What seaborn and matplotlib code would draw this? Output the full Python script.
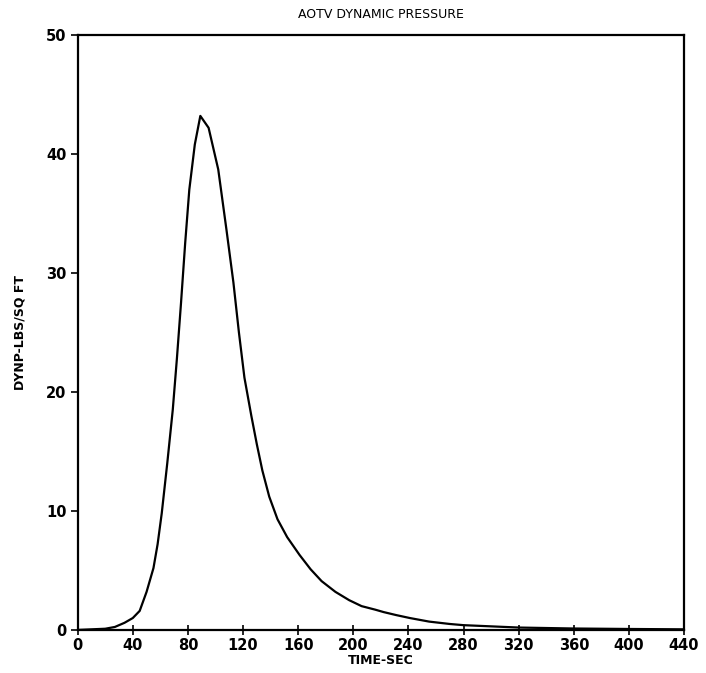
import matplotlib
matplotlib.use("Agg")
import matplotlib.pyplot as plt
import seaborn as sns
import pandas as pd

time_sec = [0, 10, 20, 27, 34, 40, 45, 50, 55, 58, 61, 65, 69, 72, 75, 78, 81, 85, 89,
            95, 102, 108, 113, 117, 121, 126, 130, 134, 139, 145, 152, 161, 169, 177,
            187, 197, 206, 216, 222, 231, 241, 255, 270, 280, 300, 320, 360, 400, 440]
dyn_pressure = [0, 0.05, 0.1, 0.25, 0.6, 1.0, 1.6, 3.2, 5.2, 7.2, 9.8, 14.0, 18.5, 22.8,
                27.5, 32.5, 37.0, 40.8, 43.2, 42.2, 38.7, 33.6, 29.2, 25.0, 21.2, 18.0,
                15.6, 13.4, 11.2, 9.3, 7.8, 6.3, 5.1, 4.1, 3.2, 2.5, 2.0, 1.7, 1.5, 1.25,
                1.0, 0.7, 0.5, 0.4, 0.3, 0.2, 0.12, 0.08, 0.05]
x_ticks = [0, 40, 80, 120, 160, 200, 240, 280, 320, 360, 400, 440]
y_ticks = [0, 10, 20, 30, 40, 50]

df = pd.DataFrame({"TIME-SEC": time_sec, "Q": dyn_pressure})

sns.set_style("white")
plt.rcParams['font.family'] = ['DejaVu Sans']

fig = plt.figure(figsize=(7.06, 6.73), dpi=100)
ax = fig.add_axes([0.110, 0.064, 0.859, 0.884])

sns.lineplot(data=df, x="TIME-SEC", y="Q", ax=ax, color="black", linewidth=1.6)

ax.set_xlim(0, 440)
ax.set_ylim(0, 50)
ax.set_xticks(x_ticks)
ax.set_yticks(y_ticks)
ax.set_xticklabels([str(t) for t in x_ticks], fontsize=10.5, fontweight="bold")
ax.set_yticklabels([str(t) for t in y_ticks], fontsize=10.5, fontweight="bold")
ax.tick_params(axis="x", direction="inout", length=7, width=1.2, pad=2, colors="black")
ax.tick_params(axis="y", direction="out", length=5, width=1.2, pad=3, colors="black")
ax.tick_params(bottom=True, left=True)

for s in ax.spines.values():
    s.set_visible(True)
    s.set_color("black")
    s.set_linewidth(1.6)

ax.set_xlabel("TIME-SEC", fontsize=9, fontweight="bold", labelpad=1, color="black")
ax.set_ylabel("DYNP-LBS/SQ FT", fontsize=9, fontweight="bold", labelpad=14, color="black")
ax.set_title("AOTV DYNAMIC PRESSURE", fontsize=9, pad=12, color="black")

fig.savefig("out.png", dpi=100)
